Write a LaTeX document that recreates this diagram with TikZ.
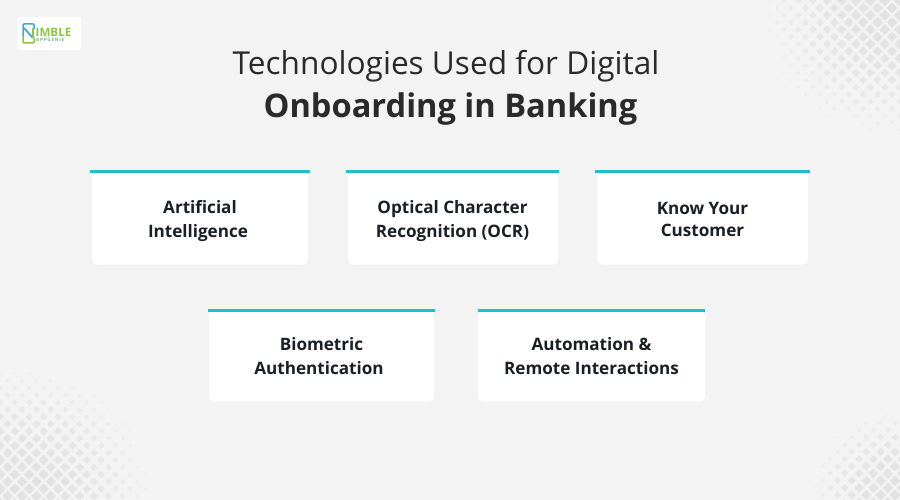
\documentclass[tikz,border=0pt]{standalone}
\usepackage{fontspec}
\setmainfont{Open Sans}
\usetikzlibrary{calc}
\definecolor{bgc}{HTML}{F3F3F3}
\definecolor{tealc}{HTML}{22BCCB}
\definecolor{inkc}{HTML}{1A1F26}
\definecolor{titlec}{HTML}{2A2A2A}
\definecolor{dotc}{HTML}{E2E2E2}
\definecolor{logog}{HTML}{8CC63F}
\definecolor{logob}{HTML}{3FA9D6}
\newcommand{\halftone}[3]{%
  \foreach \i in {-12,...,12}{\foreach \j in {-12,...,12}{%
    \pgfmathsetmacro{\dx}{(\i+\j)*7.2}%
    \pgfmathsetmacro{\dy}{(\i-\j)*7.2}%
    \pgfmathsetmacro{\px}{#1+\dx}%
    \pgfmathsetmacro{\py}{#2+\dy}%
    \pgfmathsetmacro{\rr}{veclen(\dx,\dy)/#3}%
    \pgfmathtruncatemacro{\vis}{and(\rr<1,and(and(\px>-8,\px<908),and(\py>-8,\py<508)))}%
    \ifnum\vis=1
      \pgfmathsetmacro{\sz}{5.4*(1-\rr*\rr*0.75)}%
      \pgfmathsetmacro{\op}{1-0.75*\rr*\rr}%
      \fill[dotc,opacity=\op] (\px-\sz,\py) -- (\px,\py-\sz) -- (\px+\sz,\py) -- (\px,\py+\sz) -- cycle;
    \fi
  }}}
\tikzset{
  x=1pt,y=-1pt,
  card/.style={fill=white,rounded corners=5pt,draw=none,inner sep=0pt,outer sep=0pt,align=center,
    font=\fontsize{17.1}{24}\selectfont\bfseries,text=inkc},
  topbar/.style={draw=tealc,line width=3pt},
  titlelight/.style={font=\fontsize{31.6}{40}\selectfont,text=titlec,inner sep=0pt},
  titlebold/.style={font=\fontsize{32.6}{40}\selectfont\bfseries,text=titlec,inner sep=0pt}
}
\begin{document}
\begin{tikzpicture}
\useasboundingbox (0,0) rectangle (900,500);
\fill[bgc] (0,0) rectangle (900,500);
\begin{scope}
\clip (0,0) rectangle (900,500);
\halftone{892}{8}{126}
\halftone{22}{496}{126}
\halftone{895}{495}{82}
\end{scope}
% logo
\fill[white,rounded corners=3pt] (17,17) rectangle (81,50);
\draw[logob,line width=1.5pt,rounded corners=1pt] (23,36) -- (23,24) -- (34,24) -- (34,29);
\draw[logog,line width=1.5pt,rounded corners=1pt] (23,36) -- (23,43) -- (34,43) -- (34,38);
\draw[logob,line width=1.8pt] (24,28) -- (33,38);
\draw[logog,line width=1.5pt] (33,38) -- (33,28);
\node[anchor=west,inner sep=0pt,text=logog,font=\fontsize{11.6}{12}\selectfont\bfseries] (logotop) at (35.5,32) {IMBLE};
\node[anchor=west,inner sep=0pt,text=logog!60!logob,font=\fontsize{4.6}{5}\selectfont\bfseries] (logobot) at (36,40) {A\,P\,P\,G\,E\,N\,I\,E};
% title
\node[titlelight] (t1) at (446,66) {Technologies Used for Digital};
\node[titlebold] (t2) at (450.5,109) {Onboarding in Banking};
% cards
\node[card,minimum width=216pt,minimum height=93pt] (c1) at (200,218) {};
\node[card,minimum width=210pt,minimum height=93pt] (c2) at (453,218) {};
\node[card,minimum width=211pt,minimum height=93pt] (c3) at (702.5,218) {};
\node[card,minimum width=225pt,minimum height=91pt] (c4) at (321.5,356) {};
\node[card,minimum width=227pt,minimum height=91pt] (c5) at (591.5,356) {};
\draw[topbar] ($(c1.north west)+(-2,0)$) -- ($(c1.north east)+(2,0)$);
\draw[topbar] ($(c2.north west)+(-2,0)$) -- ($(c2.north east)+(1,0)$);
\draw[topbar] ($(c3.north west)+(-2,0)$) -- ($(c3.north east)+(2,0)$);
\draw[topbar] ($(c4.north west)+(-1,0)$) -- ($(c4.north east)+(1,0)$);
\draw[topbar] ($(c5.north west)+(0,0)$) -- ($(c5.north east)+(0,0)$);
\node[card,fill=none] (l1) at (198,221.5) {\hspace*{4pt}Artificial\\Intelligence};
\node[card,fill=none] (l2) at (452.5,221.5) {Optical Character\\Recognition (OCR)};
\node[card,fill=none,font=\fontsize{17.1}{22}\selectfont\bfseries] (l3) at (702.5,219.5) {Know Your\\Customer};
\node[card,fill=none] (l4) at (319,356) {\hspace*{5pt}Biometric\\Authentication};
\node[card,fill=none] (l5) at (591.5,356) {Automation \&\\Remote Interactions};
\end{tikzpicture}
\end{document}
